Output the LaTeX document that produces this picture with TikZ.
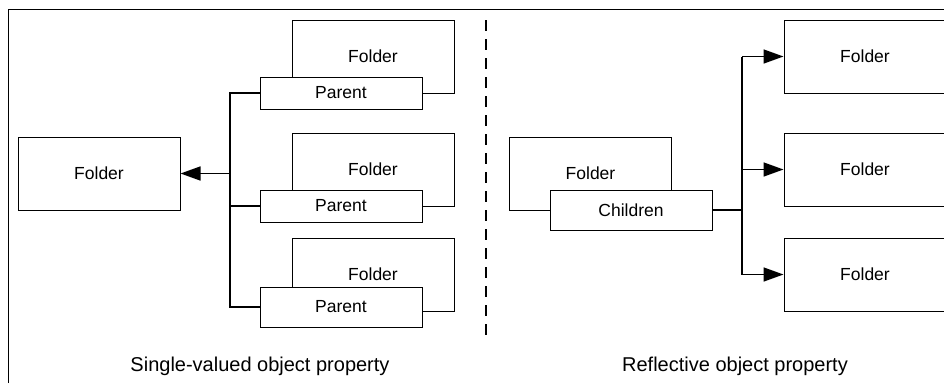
\documentclass[tikz,border=0pt]{standalone}
\usepackage{fontspec}
\setmainfont{Liberation Sans}
\usetikzlibrary{arrows.meta}
\begin{document}
\begin{tikzpicture}[x=1pt,y=-1pt,
  box/.style={draw=black, fill=white, line width=1pt, inner sep=0pt, minimum width=162pt, minimum height=73pt, font=\fontsize{17.5}{20}\selectfont},
  tab/.style={draw=black, fill=white, line width=1pt, inner sep=0pt, minimum width=162pt, minimum height=32pt, font=\fontsize{17.5}{20}\selectfont},
  conn/.style={line width=1.6pt},
  arr/.style={conn, -{Triangle[length=20pt,width=14pt]}},
  captext/.style={font=\fontsize{20}{24}\selectfont}]
\useasboundingbox (0,0) rectangle (944,383);
% frame
\draw[line width=1pt] (8,383) -- (8,9) -- (944,9);
% left part
\node[box] (lf) at (99,173.5) {Folder};
\node[box] (f1) at (373,56.5) {Folder};
\node[box] (f2) at (373,169.5) {Folder};
\node[box] (f3) at (373,274.5) {Folder};
\node[tab] (p1) at (341,93) {Parent};
\node[tab] (p2) at (341,206) {Parent};
\node[tab, minimum height=40pt] (p3) at (341,307) {Parent};
\coordinate (bt) at (230,93);
\coordinate (bb) at (230,307);
\draw[conn] (p1.west) -- (bt) -- (bb) -- (p3.west);
\draw[conn] (p2.west) -- (p2.west -| bt);
\draw[arr] (bt |- lf.east) -- (lf.east);
% divider
\draw[line width=2pt, dash pattern=on 11pt off 8pt] (486,20) -- (486,340);
% right part
\node[box] (cf) at (590.5,173.5) {Folder};
\node[tab, minimum height=40pt] (ch) at (631,210) {Children};
\node[box] (r1) at (865,56.5) {Folder};
\node[box] (r2) at (865,169.5) {Folder};
\node[box] (r3) at (865,274.5) {Folder};
\coordinate (rb) at (742,210);
\draw[conn] (ch.east) -- (rb);
\draw[conn] (rb |- r1.west) -- (rb |- r3.west);
\draw[arr] (rb |- r1.west) -- (r1.west);
\draw[arr] (rb |- r2.west) -- (r2.west);
\draw[arr] (rb |- r3.west) -- (r3.west);
% captions
\node[captext] (c1) at (260,366) {Single-valued object property};
\node[captext] (c2) at (735,366) {Reflective object property};
\end{tikzpicture}
\end{document}
